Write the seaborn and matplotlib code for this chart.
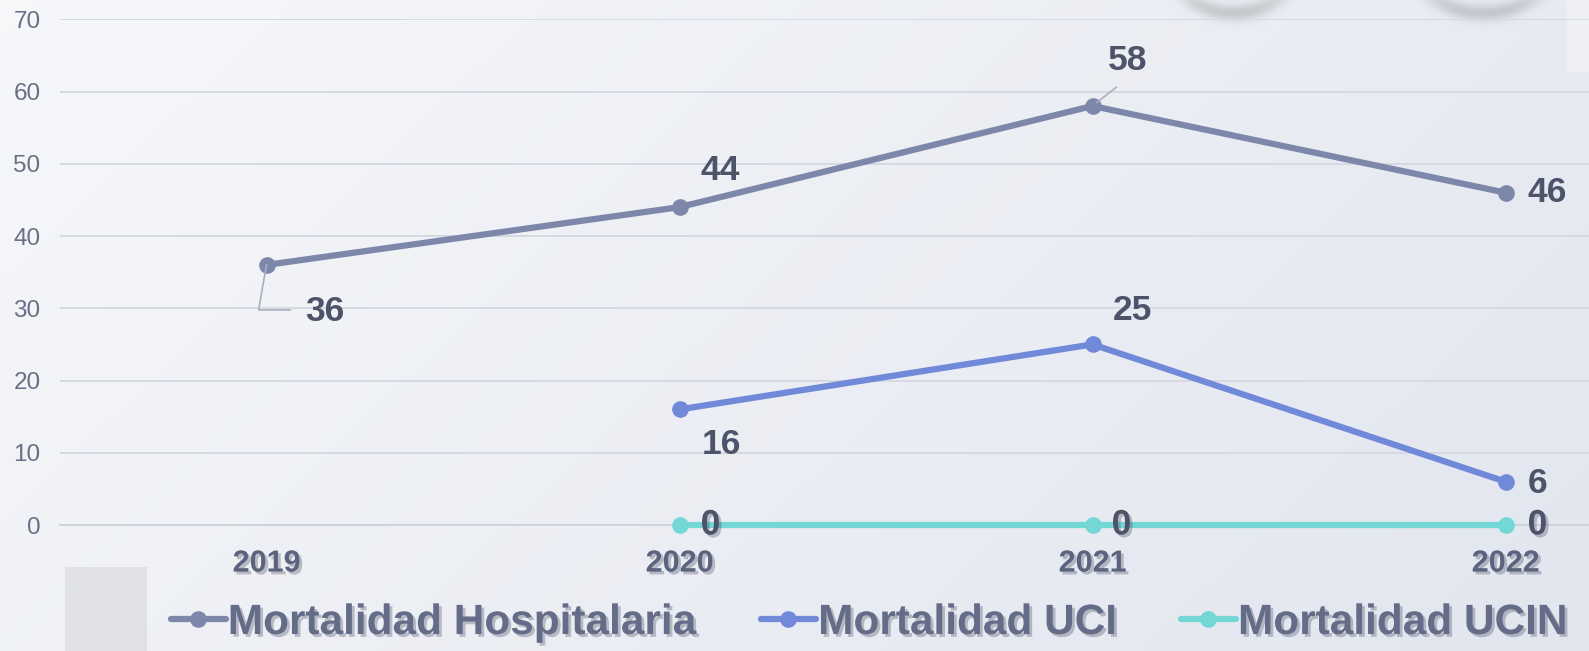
import numpy as np
import pandas as pd
import matplotlib
matplotlib.use("Agg")
import matplotlib.pyplot as plt
import matplotlib.patheffects as pe
import seaborn as sns

years = [2019, 2020, 2021, 2022]
hospitalaria = [36, 44, 58, 46]
uci = [np.nan, 16, 25, 6]
ucin = [np.nan, 0, 0, 0]
series_names = ["Mortalidad Hospitalaria", "Mortalidad UCI", "Mortalidad UCIN"]
colors = ["#7d87aa", "#7089d8", "#72d7d5"]

df = pd.DataFrame({
    "Año": years * 3,
    "Valor": hospitalaria + uci + ucin,
    "Serie": [s for s in series_names for _ in years],
}).dropna()

sns.set_theme(style="white")
plt.rcParams["font.family"] = ["Liberation Sans", "DejaVu Sans"]

fig = plt.figure(figsize=(15.89, 6.51), dpi=100)

# background gradient of the slide
bg = fig.add_axes([0, 0, 1, 1], zorder=-10)
H, W = 651, 1589
yy, xx = np.mgrid[0:H, 0:W]
t = (xx / W * 0.7 + yy / H * 0.3)
top = np.array([0.965, 0.970, 0.980])
bot = np.array([0.885, 0.900, 0.935])
img = top[None, None, :] * (1 - t[..., None]) + bot[None, None, :] * t[..., None]
# soft shadows of round shapes sitting above the top edge
for cx, rx in [(1233, 72), (1483, 78)]:
    d = np.sqrt(((xx - cx) / rx) ** 2 + ((yy + 60) / 72.0) ** 2)
    shade = np.exp(-((d - 1.0) / 0.12) ** 2) * 0.16
    shade *= np.clip((yy + 60) / 72.0, 0, 1) ** 2
    img = img * (1 - shade[..., None])
img[0:72, 1567:] = np.array([0.935, 0.942, 0.96])
img[567:, 65:147] = np.array([0.875, 0.885, 0.905])
bg.imshow(np.clip(img, 0, 1), aspect="auto", extent=[0, W, H, 0])
bg.axis("off")

ax = fig.add_axes([60 / W, 126 / H, 1 - 60 / W, (525 - 19.3) / H])
ax.patch.set_alpha(0)

sns.lineplot(data=df, x="Año", y="Valor", hue="Serie", hue_order=series_names,
             palette=colors, marker="o", markersize=12, markeredgewidth=0,
             linewidth=4.5, ax=ax, legend=True, zorder=3)
for line in ax.lines:
    line.set_clip_on(False)

ax.set_xlim(2018.5, 2019 + (W - 266.5) / 413)
ax.set_ylim(0, 70)
ax.set_yticks(range(0, 71, 10))
ax.set_xticks(years)
ax.set_xticks([y + 0.5 for y in [2018, 2019, 2020, 2021]], minor=True)
ax.set_xlabel("")
ax.set_ylabel("")
ax.grid(axis="y", color="#d6d9e1", linewidth=1.4)
for s in ["top", "right", "left"]:
    ax.spines[s].set_visible(False)
ax.spines["bottom"].set_color("#d0d3dc")
ax.spines["bottom"].set_linewidth(1.4)
ax.tick_params(axis="y", length=0, pad=14, labelsize=17.5, labelcolor="#6a6f86")
ax.tick_params(axis="x", which="major", length=0, pad=17, labelsize=22, labelcolor="#5c637e")
ax.tick_params(axis="x", which="minor", length=8, width=1.2, color="#d0d3dc")
shadow = [pe.withSimplePatchShadow(offset=(2, -2), shadow_rgbFace="#3c4055", alpha=0.3)]
for lab in ax.get_xticklabels():
    lab.set_fontweight("bold")
    lab.set_path_effects(shadow)

# data labels (offsets in pixels from each point)
label_offsets = {
    "Mortalidad Hospitalaria": [(58, -47), (41, 37), (35, 45), (42, 0)],
    "Mortalidad UCI": [None, (42, -35), (40, 34), (32, -2)],
    "Mortalidad UCIN": [None, (31, 0), (29, 0), (32, 0)],
}
values = {"Mortalidad Hospitalaria": hospitalaria, "Mortalidad UCI": uci, "Mortalidad UCIN": ucin}
for name in series_names:
    for yr, v, off in zip(years, values[name], label_offsets[name]):
        if off is None or np.isnan(v):
            continue
        fx = shadow if name == "Mortalidad UCIN" else None
        ax.annotate(f"{v:g}", xy=(yr, v), xytext=off, textcoords="offset pixels",
                    ha="center", va="center", fontsize=25.5, fontweight="bold",
                    color="#4d5369", zorder=5, path_effects=fx)

# leader lines
ax.annotate("", xy=(2019, 36), xytext=(24, -45), textcoords="offset pixels",
            arrowprops=dict(arrowstyle="-", color="#a9aec0", lw=1.2, shrinkA=0, shrinkB=0,
                            connectionstyle="angle,angleA=0,angleB=80,rad=0"))
ax.annotate("", xy=(2021, 58), xytext=(24, 19), textcoords="offset pixels",
            arrowprops=dict(arrowstyle="-", color="#a9aec0", lw=1.2, shrinkA=0, shrinkB=4))

handles, labels = ax.get_legend_handles_labels()
ax.get_legend().remove()
leg = fig.legend(handles, labels, loc="center", bbox_to_anchor=(0.547, 0.043), ncol=3,
                 frameon=False, prop={"size": 30.5, "weight": "bold"},
                 handlelength=1.3, handletextpad=0.05, columnspacing=1.5)
for txt in leg.get_texts():
    txt.set_color("#646c88")
    txt.set_path_effects(shadow)
for h in leg.legend_handles:
    h.set_linewidth(4.5)

fig.savefig("out.png", dpi=100)
